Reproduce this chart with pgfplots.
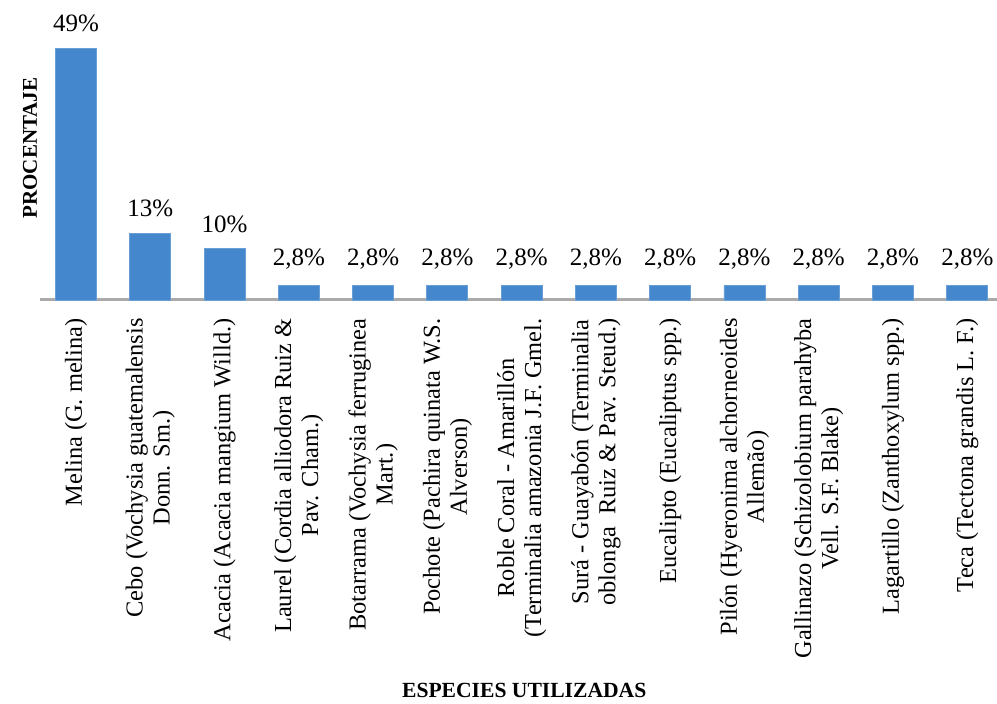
\documentclass[border=0pt]{standalone}
\usepackage{pgfplots}
\pgfplotsset{compat=1.18}
\usepackage{fontspec}
\setmainfont{Liberation Serif}
\definecolor{barblue}{RGB}{68,135,204}
\definecolor{axgray}{RGB}{170,170,170}
\begin{document}
\begin{tikzpicture}
\useasboundingbox (-20pt,-202pt) rectangle (478.5pt,150pt);
\begin{axis}[
  scale only axis,
  width=478.5pt, height=147.5pt,
  xmin=-0.485, xmax=12.4,
  ymin=0, ymax=57.4,
  axis lines*=left,
  y axis line style={draw=none},
  x axis line style={draw=axgray, line width=1.5pt},
  ytick=\empty,
  xtick={0,...,12},
  xtick style={draw=none},
  xticklabels={
    {Melina (G. melina)},
    {Cebo (Vochysia guatemalensis\\Donn. Sm.)},
    {Acacia (Acacia mangium Willd.)},
    {Laurel (Cordia alliodora Ruiz \&\\Pav. Cham.)},
    {Botarrama (Vochysia ferruginea\\Mart.)},
    {Pochote (Pachira quinata W.S.\\Alverson)},
    {Roble Coral - Amarillón\\(Terminalia amazonia J.F. Gmel.},
    {Surá - Guayabón (Terminalia\\oblonga\ \ Ruiz \& Pav. Steud.)},
    {Eucalipto (Eucaliptus spp.)},
    {Pilón (Hyeronima alchorneoides\\Allemão)},
    {Gallinazo (Schizolobium parahyba\\Vell. S.F. Blake)},
    {Lagartillo (Zanthoxylum spp.)},
    {Teca (Tectona grandis L. F.)}
  },
  xticklabel shift=8pt,
  xticklabel style={rotate=90, anchor=east, align=center,
    font=\fontsize{12.2}{13.5}\selectfont, inner sep=1pt},
  ylabel={\textbf{PROCENTAJE}},
  ylabel style={at={(axis description cs:-0.0104,0.515)}, anchor=center, rotate=0,
    font=\fontsize{10.5}{12}\selectfont},
  xlabel={\textbf{ESPECIES UTILIZADAS}},
  xlabel style={at={(axis description cs:0.506,-1.322)}, anchor=center,
    font=\fontsize{10.8}{12}\selectfont},
  clip=false,
]
\addplot[ybar, bar width=20.5pt, fill=barblue, draw=barblue!80!white,
  point meta=explicit symbolic,
  nodes near coords,
  nodes near coords style={font=\fontsize{12.5}{14}\selectfont, anchor=south, yshift=4.5pt}]
coordinates {
  (0,49) [49\%]
  (1,13) [13\%]
  (2,10) [10\%]
  (3,2.8) [2,8\%]
  (4,2.8) [2,8\%]
  (5,2.8) [2,8\%]
  (6,2.8) [2,8\%]
  (7,2.8) [2,8\%]
  (8,2.8) [2,8\%]
  (9,2.8) [2,8\%]
  (10,2.8) [2,8\%]
  (11,2.8) [2,8\%]
  (12,2.8) [2,8\%]
};
\end{axis}
\end{tikzpicture}
\end{document}
